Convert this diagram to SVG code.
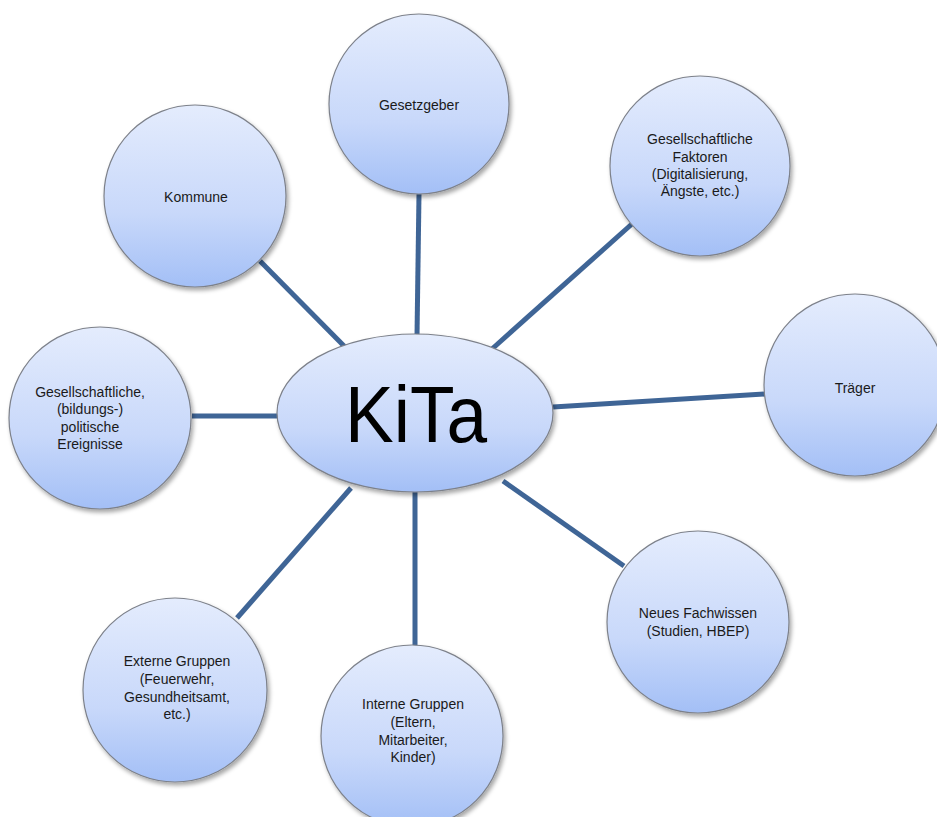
<svg xmlns="http://www.w3.org/2000/svg" width="937" height="817" viewBox="0 0 937 817">
<defs>
<linearGradient id="g" x1="0" y1="0" x2="0" y2="1">
<stop offset="0" stop-color="#e4ecfd"/>
<stop offset="0.6" stop-color="#c8d8fa"/>
<stop offset="1" stop-color="#a3bff6"/>
</linearGradient>
<filter id="sh" x="-20%" y="-20%" width="140%" height="140%">
<feDropShadow dx="2" dy="3" stdDeviation="2" flood-color="#000" flood-opacity="0.35"/>
</filter>
</defs>
<style>
.n{fill:url(#g);stroke:#7d818a;stroke-width:1.2;filter:url(#sh)}
.c line{stroke:#3f6596;stroke-width:5}
.t{font-family:"Liberation Sans",Arial,sans-serif;font-size:14px;fill:#1a1a1a;text-anchor:middle}
.k{font-family:"Liberation Sans",Arial,sans-serif;font-size:80px;fill:#000;text-anchor:middle}
</style>
<rect width="937" height="817" fill="#fff"/>
<g class="c" id="connectors">
<line x1="419" y1="194" x2="417" y2="336"/>
<line x1="633" y1="223" x2="492" y2="349"/>
<line x1="553" y1="407" x2="765" y2="394"/>
<line x1="503" y1="481" x2="624" y2="566"/>
<line x1="415" y1="491" x2="415" y2="646"/>
<line x1="351" y1="488" x2="237" y2="618"/>
<line x1="192" y1="416" x2="279" y2="416"/>
<line x1="260" y1="261" x2="346" y2="348"/>
</g>
<g id="kita">
<ellipse class="n" cx="415" cy="413" rx="138" ry="79"/>
<text class="k" x="416" y="442" textLength="142" lengthAdjust="spacingAndGlyphs">KiTa</text>
</g>
<g id="gesetzgeber">
<circle class="n" cx="419" cy="104" r="90"/>
<text class="t" x="419" y="110">Gesetzgeber</text>
</g>
<g id="faktoren">
<circle class="n" cx="700" cy="166" r="90"/>
<text class="t" x="700" y="144">Gesellschaftliche</text>
<text class="t" x="700" y="162">Faktoren</text>
<text class="t" x="700" y="179">(Digitalisierung,</text>
<text class="t" x="700" y="196">Ängste, etc.)</text>
</g>
<g id="traeger">
<circle class="n" cx="855" cy="385" r="91"/>
<text class="t" x="855" y="393">Träger</text>
</g>
<g id="fachwissen">
<circle class="n" cx="698" cy="622" r="91"/>
<text class="t" x="698" y="618">Neues Fachwissen</text>
<text class="t" x="698" y="636">(Studien, HBEP)</text>
</g>
<g id="interne">
<circle class="n" cx="412" cy="736" r="91"/>
<text class="t" x="413" y="709">Interne Gruppen</text>
<text class="t" x="413" y="727">(Eltern,</text>
<text class="t" x="413" y="745">Mitarbeiter,</text>
<text class="t" x="413" y="762">Kinder)</text>
</g>
<g id="externe">
<circle class="n" cx="175" cy="690" r="92"/>
<text class="t" x="177" y="666">Externe Gruppen</text>
<text class="t" x="177" y="684">(Feuerwehr,</text>
<text class="t" x="177" y="702">Gesundheitsamt,</text>
<text class="t" x="177" y="719">etc.)</text>
</g>
<g id="ereignisse">
<circle class="n" cx="100" cy="418" r="91"/>
<text class="t" x="90" y="397">Gesellschaftliche,</text>
<text class="t" x="90" y="414">(bildungs-)</text>
<text class="t" x="90" y="432">politische</text>
<text class="t" x="90" y="449">Ereignisse</text>
</g>
<g id="kommune">
<circle class="n" cx="195" cy="196" r="91"/>
<text class="t" x="196" y="202">Kommune</text>
</g>
</svg>
